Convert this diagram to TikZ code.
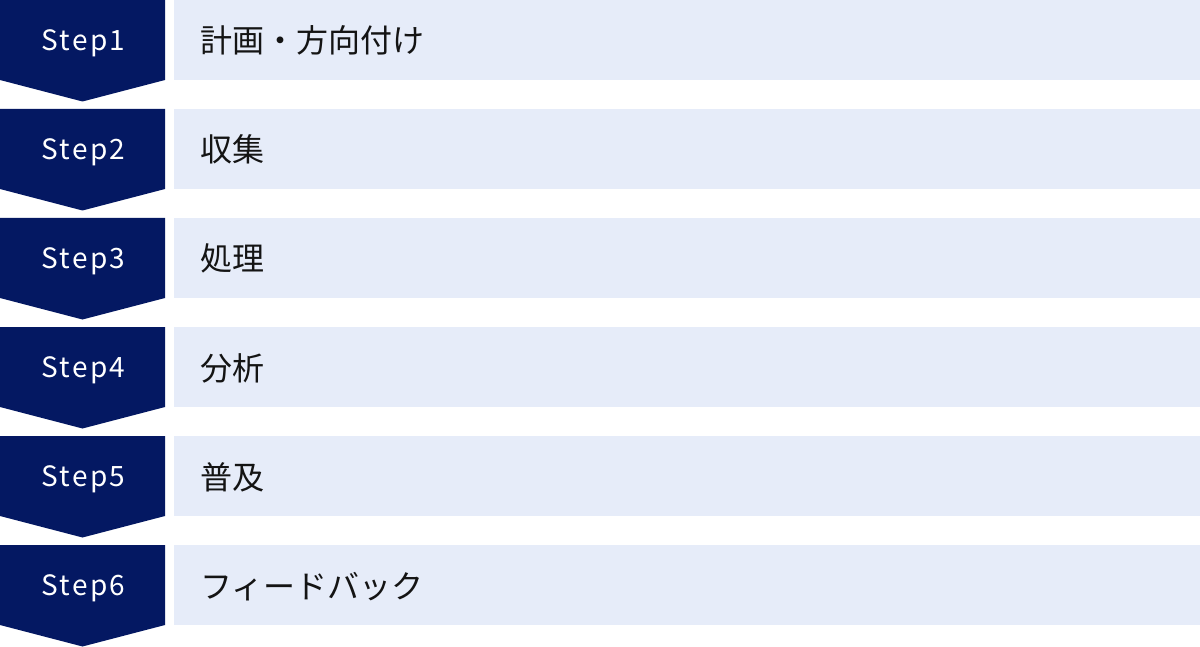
\documentclass[tikz,border=0pt]{standalone}
\usepackage{fontspec}
\setmainfont{Noto Sans CJK JP}
\newfontfamily\stepfont[LetterSpace=8]{Noto Sans CJK JP}
\newfontfamily\jpfont{Noto Sans CJK JP}
\definecolor{navy}{RGB}{4,24,98}
\definecolor{lightbox}{RGB}{230,236,249}
\definecolor{textdark}{RGB}{20,20,20}
\tikzset{
  stepshape/.style={fill=navy, draw=none},
  boxshape/.style={fill=lightbox, draw=none},
  steplabel/.style={text=white, font=\stepfont\fontsize{28}{28}\selectfont, inner sep=0pt, anchor=base},
  itemlabel/.style={text=textdark, font=\jpfont\fontsize{32}{32}\selectfont, inner sep=0pt, anchor=base west}
}
\begin{document}
\begin{tikzpicture}[x=1pt,y=-1pt]
\useasboundingbox (0,0) rectangle (1200,647);
\fill[white] (0,0) rectangle (1200,647);
\foreach \i/\lab in {0/計画・方向付け,1/収集,2/処理,3/分析,4/普及,5/フィードバック}{
  \pgfmathsetmacro{\t}{109*\i}
  \pgfmathtruncatemacro{\n}{\i+1}
  \fill[stepshape] (0,\t) -- (165,\t) -- (165,\t+80) -- (82.5,\t+101.5) -- (0,\t+80) -- cycle;
  \fill[boxshape] (174,\t) rectangle (1200,\t+80);
  \node[steplabel] (step\n) at (83.5,\t+50.5) {Step\n};
  \node[itemlabel] (item\n) at (200,\t+53) {\lab};
}
\end{tikzpicture}
\end{document}
